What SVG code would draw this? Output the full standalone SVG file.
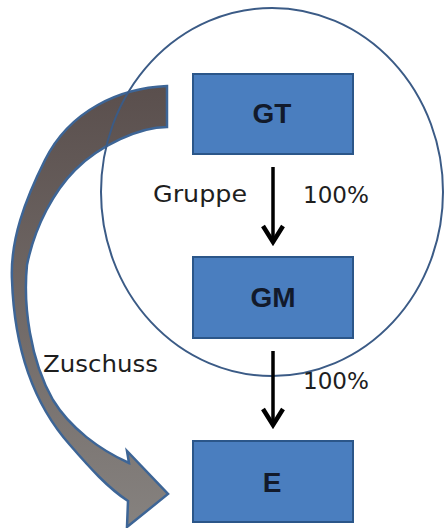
<svg xmlns="http://www.w3.org/2000/svg" width="445" height="528" viewBox="0 0 445 528">
  <defs>
    <linearGradient id="shaftFill" x1="0" y1="0" x2="0" y2="1">
      <stop offset="0" stop-color="#5a4f4d"/>
      <stop offset="1" stop-color="#86827f"/>
    </linearGradient>
    <marker id="arr" viewBox="-22 -13 26 26" refX="0" refY="0" markerWidth="26" markerHeight="26" orient="auto" markerUnits="userSpaceOnUse">
      <path d="M-16,-10 L0,0 L-16,10" fill="none" stroke="#000" stroke-width="4.5" stroke-linejoin="miter"/>
    </marker>
  </defs>
  <style>
    .box { fill: #4a7ebf; stroke: #2b5689; stroke-width: 2; }
    .boxlabel { font-family: "Liberation Sans", Arial, sans-serif; font-weight: bold; font-size: 28px; fill: #121a2b; text-anchor: middle; }
    .label { font-family: "DejaVu Sans", Verdana, sans-serif; font-size: 23px; fill: #1e1e1e; }
    .conn { stroke: #000; stroke-width: 3.5; fill: none; marker-end: url(#arr); }
    .ring { fill: none; stroke: #3b5b86; stroke-width: 2; }
    .bigarrow { fill: url(#shaftFill); stroke: #3d6596; stroke-width: 2.5; stroke-linejoin: miter; }
  </style>

  <g id="zuschuss-arrow">
    <path class="bigarrow" d="M167,86 C120,88 70,110 45,160 C25,200 10,240 12,280 C14,340 30,400 70,445 C90,468 108,488 128,501 L127,527 L168,494 L127,451 L129,463 C100,450 70,428 53,400 C30,360 23,305 27,265 C35,225 55,190 75,170 C100,145 140,127 167,127 Z"/>
  </g>

  <g id="group-circle">
    <ellipse class="ring" cx="272" cy="192" rx="171" ry="184"/>
  </g>

  <g id="node-GT">
    <rect class="box" x="193" y="74" width="160" height="80"/>
    <text class="boxlabel" x="272" y="123">GT</text>
  </g>
  <g id="node-GM">
    <rect class="box" x="193" y="257" width="160" height="81"/>
    <text class="boxlabel" x="273" y="307">GM</text>
  </g>
  <g id="node-E">
    <rect class="box" x="193" y="441" width="160" height="81"/>
    <text class="boxlabel" x="272" y="492">E</text>
  </g>

  <g id="connectors">
    <line class="conn" x1="273" y1="167" x2="273" y2="242"/>
    <line class="conn" x1="273" y1="351" x2="273" y2="425"/>
  </g>

  <g id="labels">
    <text class="label" x="153" y="202" textLength="94" lengthAdjust="spacingAndGlyphs">Gruppe</text>
    <text class="label" x="303" y="203" textLength="66" lengthAdjust="spacingAndGlyphs">100%</text>
    <text class="label" x="303" y="389" textLength="66" lengthAdjust="spacingAndGlyphs">100%</text>
    <text class="label" x="43" y="372" font-size="24" textLength="115" lengthAdjust="spacingAndGlyphs">Zuschuss</text>
  </g>
</svg>
